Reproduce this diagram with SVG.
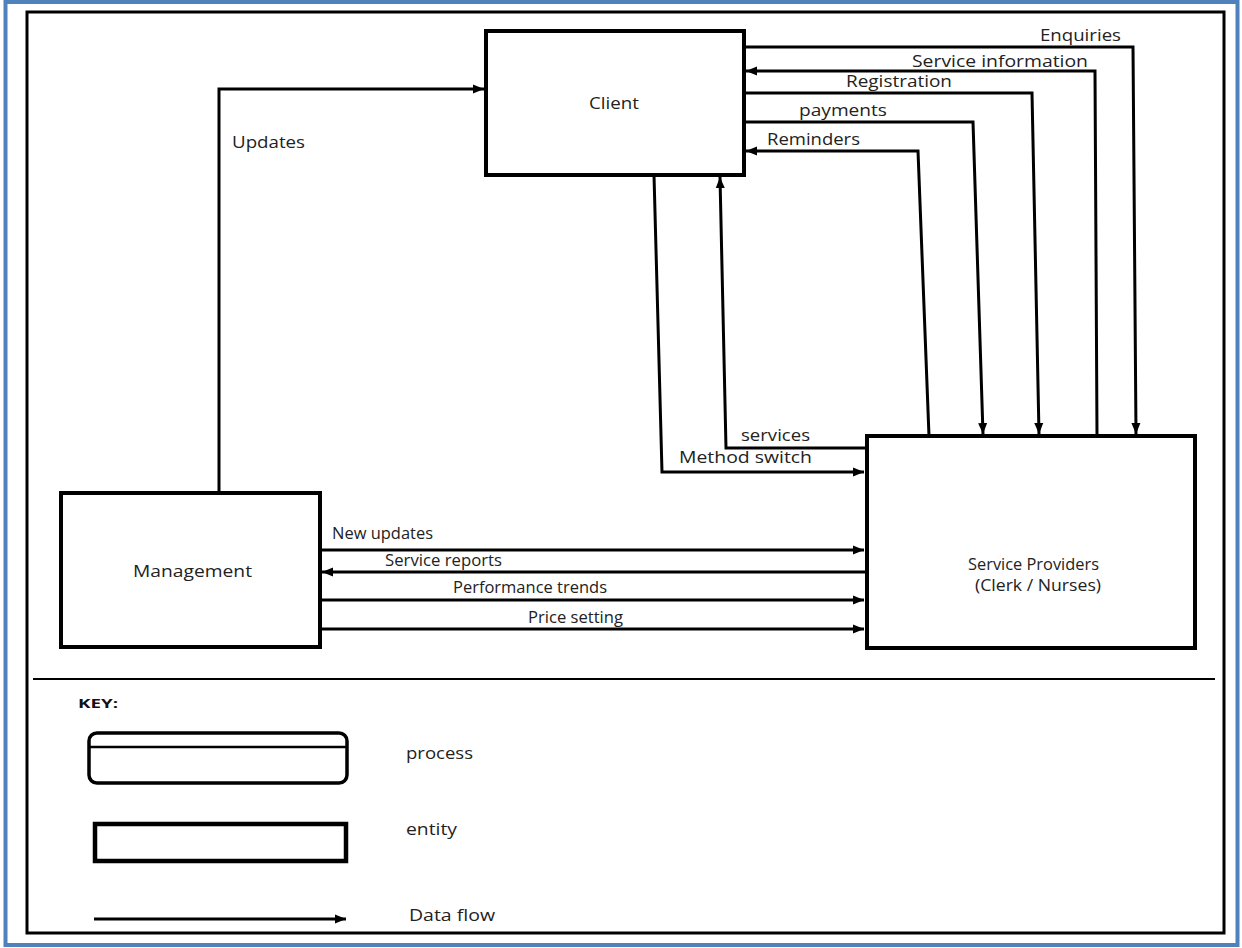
<svg xmlns="http://www.w3.org/2000/svg" width="1242" height="948" viewBox="0 0 1242 948">
  <style>
    .frame { fill: none; stroke: #000; stroke-width: 3; }
    .box { fill: #fff; stroke: #000; stroke-width: 4; }
    .flow { fill: none; stroke: #000; stroke-width: 3; stroke-linejoin: miter; }
    .lbl { font-family: "Open Sans", "Liberation Sans", sans-serif; font-size: 15.5px; fill: #222; }
  </style>
  <defs>
    <marker id="arrow" markerUnits="userSpaceOnUse" markerWidth="12" markerHeight="10" refX="11" refY="5" orient="auto">
      <path d="M0,0.5 L11,5 L0,9.5 Z" fill="#000"/>
    </marker>
  </defs>

  <rect width="1242" height="948" fill="#fff"/>
  <!-- outer blue page border -->
  <rect x="5.5" y="2" width="1232" height="943" fill="none" stroke="#4f81bd" stroke-width="4"/>
  <!-- inner drawing frame -->
  <rect class="frame" x="27" y="12" width="1197" height="921"/>
  <line x1="33" y1="679" x2="1215" y2="679" stroke="#000" stroke-width="2"/>

  <!-- connectors -->
  <g id="connectors">
    <path class="flow" d="M744,47 H1133 L1136,434" marker-end="url(#arrow)"/>
    <path class="flow" d="M1097,436 L1095,71 H746" marker-end="url(#arrow)"/>
    <path class="flow" d="M744,93 H1032 L1039,434" marker-end="url(#arrow)"/>
    <path class="flow" d="M744,122 H973 L983,434" marker-end="url(#arrow)"/>
    <path class="flow" d="M929,436 L918,151 H746" marker-end="url(#arrow)"/>
    <path class="flow" d="M866,448 H726 L720,177" marker-end="url(#arrow)"/>
    <path class="flow" d="M654,175 L662,472 H864" marker-end="url(#arrow)"/>
    <path class="flow" d="M219,493 V89 H484" marker-end="url(#arrow)"/>
    <path class="flow" d="M320,550 H864" marker-end="url(#arrow)"/>
    <path class="flow" d="M866,572 H322" marker-end="url(#arrow)"/>
    <path class="flow" d="M320,600 H864" marker-end="url(#arrow)"/>
    <path class="flow" d="M320,629 H864" marker-end="url(#arrow)"/>

    <text class="lbl" x="1040" y="41" textLength="81" lengthAdjust="spacingAndGlyphs">Enquiries</text>
    <text class="lbl" x="912" y="67" textLength="176" lengthAdjust="spacingAndGlyphs">Service information</text>
    <text class="lbl" x="846" y="87" textLength="106" lengthAdjust="spacingAndGlyphs">Registration</text>
    <text class="lbl" x="799" y="116" textLength="88" lengthAdjust="spacingAndGlyphs">payments</text>
    <text class="lbl" x="767" y="145" textLength="93" lengthAdjust="spacingAndGlyphs">Reminders</text>
    <text class="lbl" x="741" y="441" textLength="69" lengthAdjust="spacingAndGlyphs">services</text>
    <text class="lbl" x="679" y="463" textLength="133" lengthAdjust="spacingAndGlyphs">Method switch</text>
    <text class="lbl" x="232" y="148" textLength="73" lengthAdjust="spacingAndGlyphs">Updates</text>
    <text class="lbl" x="332" y="539" textLength="101" lengthAdjust="spacingAndGlyphs">New updates</text>
    <text class="lbl" x="385" y="566" textLength="117" lengthAdjust="spacingAndGlyphs">Service reports</text>
    <text class="lbl" x="453" y="593" textLength="154" lengthAdjust="spacingAndGlyphs">Performance trends</text>
    <text class="lbl" x="528" y="623" textLength="95" lengthAdjust="spacingAndGlyphs">Price setting</text>
  </g>

  <g id="client">
    <rect class="box" x="486" y="31" width="258" height="144"/>
    <text class="lbl" x="589" y="109" textLength="50" lengthAdjust="spacingAndGlyphs">Client</text>
  </g>

  <g id="service-providers">
    <rect class="box" x="867" y="436" width="328" height="212"/>
    <text class="lbl" x="968" y="570" textLength="131" lengthAdjust="spacingAndGlyphs">Service Providers</text>
    <text class="lbl" x="975" y="591" textLength="126" lengthAdjust="spacingAndGlyphs">(Clerk / Nurses)</text>
  </g>

  <g id="management">
    <rect class="box" x="61" y="493" width="259" height="154"/>
    <text class="lbl" x="133" y="577" textLength="119" lengthAdjust="spacingAndGlyphs">Management</text>
  </g>

  <!-- legend -->
  <g id="key">
    <text x="78" y="708" font-family="'Open Sans', 'Liberation Sans', sans-serif" font-size="13" font-weight="bold" fill="#111" textLength="40" lengthAdjust="spacingAndGlyphs">KEY:</text>
    <rect x="89" y="733" width="258" height="50" rx="8" ry="8" fill="none" stroke="#000" stroke-width="3.5"/>
    <line x1="90" y1="747" x2="346" y2="747" stroke="#000" stroke-width="2.5"/>
    <text class="lbl" x="406" y="759" textLength="67" lengthAdjust="spacingAndGlyphs">process</text>
    <rect x="95" y="824" width="251" height="37" fill="none" stroke="#000" stroke-width="4.5"/>
    <text class="lbl" x="406" y="835" textLength="51" lengthAdjust="spacingAndGlyphs">entity</text>
    <path class="flow" d="M94,919 H346" marker-end="url(#arrow)"/>
    <text class="lbl" x="409" y="921" textLength="86" lengthAdjust="spacingAndGlyphs">Data flow</text>
  </g>
</svg>
